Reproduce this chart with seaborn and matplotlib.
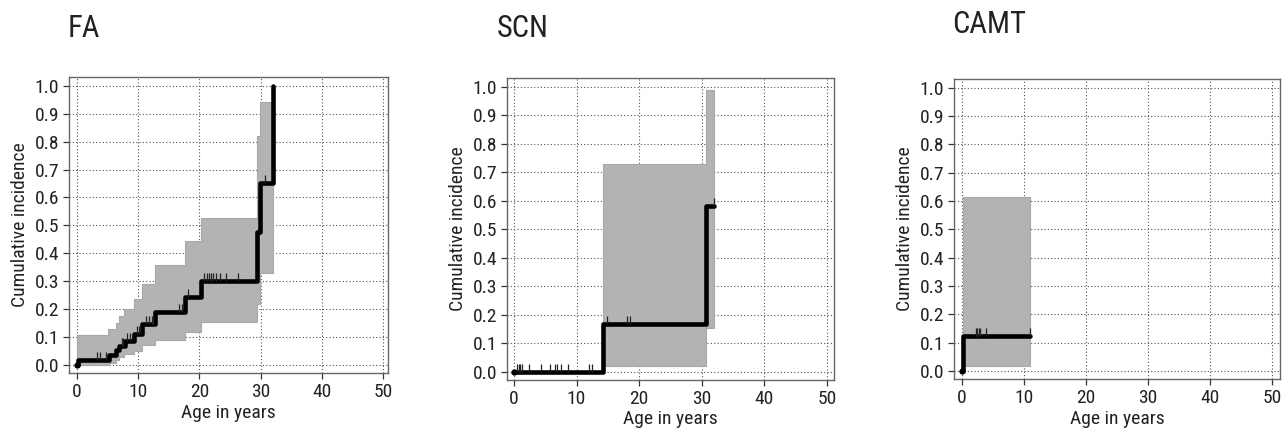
import numpy as np
import pandas as pd
import matplotlib
matplotlib.use("Agg")
import matplotlib.pyplot as plt
import seaborn as sns
from matplotlib import font_manager

# ---------------- data ----------------
panel_titles = ["FA", "SCN", "CAMT"]

# FA
fa_time = [0, 0.1, 5.2, 6.4, 6.9, 7.8, 9.3, 10.7, 12.8, 17.7, 20.3, 29.4, 29.9, 32.0]
fa_cif = [0, 0.017, 0.035, 0.053, 0.07, 0.088, 0.113, 0.147, 0.19, 0.243, 0.30, 0.475, 0.65, 1.0]
fa_ci_time = [0, 5.0, 5.2, 6.4, 6.85, 7.7, 9.3, 10.7, 12.8, 17.6, 20.2, 29.4, 29.9, 32.0]
fa_ci_upper = [0.107, 0.128, 0.128, 0.15, 0.175, 0.2, 0.235, 0.29, 0.36, 0.445, 0.525, 0.82, 0.94, 0.94]
fa_ci_lower = [0.0, 0.0, 0.006, 0.018, 0.03, 0.04, 0.052, 0.072, 0.09, 0.12, 0.155, 0.22, 0.33, 0.33]
fa_censor = [3.3, 3.7, 4.8, 7.3, 7.6, 8.1, 8.6, 9.8, 10.2, 11.3, 11.7, 12.2, 12.5,
             16.6, 17.1, 18.1, 20.8, 21.2, 21.6, 21.9, 22.3, 22.7, 23.3, 24.3, 26.3, 30.7]

# SCN
scn_time = [0, 14.2, 30.6, 32.0]
scn_cif = [0, 0.167, 0.583, 0.583]
scn_ci_time = [0, 14.2, 30.6, 32.0]
scn_ci_upper = [0, 0.73, 0.99, 0.99]
scn_ci_lower = [0, 0.022, 0.155, 0.155]
scn_censor = [0.5, 0.8, 1.0, 1.3, 2.4, 4.3, 5.8, 6.6, 6.9, 7.5, 8.7, 12.0, 12.5,
              14.9, 18.0, 18.6, 32.0]

# CAMT
camt_time = [0, 0.15, 11.0]
camt_cif = [0, 0.125, 0.125]
camt_ci_time = [0, 0.15, 11.0]
camt_ci_upper = [0, 0.615, 0.615]
camt_ci_lower = [0, 0.018, 0.018]
camt_censor = [2.2, 2.4, 2.7, 2.9, 3.8, 10.9]

x_ticks = [0, 10, 20, 30, 40, 50]
y_ticks = [0.0, 0.1, 0.2, 0.3, 0.4, 0.5, 0.6, 0.7, 0.8, 0.9, 1.0]
x_label = "Age in years"
y_label = "Cumulative incidence"

panels = [
    (fa_time, fa_cif, fa_ci_time, fa_ci_upper, fa_ci_lower, fa_censor),
    (scn_time, scn_cif, scn_ci_time, scn_ci_upper, scn_ci_lower, scn_censor),
    (camt_time, camt_cif, camt_ci_time, camt_ci_upper, camt_ci_lower, camt_censor),
]

# ---------------- style ----------------
sns.set_theme(style="white")
names = {f.name for f in font_manager.fontManager.ttflist}
fam = None
for cand in ["Liberation Sans Narrow", "Roboto Condensed", "Open Sans Condensed"]:
    if cand in names:
        fam = cand
        break
if fam is None:
    fam = "Liberation Sans"
plt.rcParams["font.family"] = [fam, "DejaVu Sans"]

fig = plt.figure(figsize=(12.83, 4.28), dpi=100)

W, H = 1283.0, 428.0
axes_px = [(69, 77, 388, 373), (507, 78, 834, 380), (954, 79, 1280, 379)]
xlims = [(-1.3, 50.8), (-1.1, 51.1), (-1.3, 51.3)]
title_px = [(68, 37), (497, 37), (952, 33)]

grid_color = "#555555"
fill_color = "#b3b3b3"

for i, (t, c, ct, cu, cl, cens) in enumerate(panels):
    l, tp, r, b = axes_px[i]
    ax = fig.add_axes([l / W, 1 - b / H, (r - l) / W, (b - tp) / H])
    ax.set_axisbelow(True)
    ax.grid(True, linestyle=(0, (1, 2)), color=grid_color, linewidth=0.8)

    ax.fill_between(ct, cl, cu, step="post", color=fill_color,
                    edgecolor="#a8a8a8", linewidth=0.8, zorder=2)

    df = pd.DataFrame({"time": t, "cif": c})
    sns.lineplot(data=df, x="time", y="cif", drawstyle="steps-post",
                 estimator=None, sort=False, color="black", linewidth=3.3,
                 ax=ax, zorder=3)

    # censor marks (value of step function at each censor time)
    idx = np.searchsorted(np.asarray(t), np.asarray(cens), side="right") - 1
    cens_y = np.asarray(c)[idx]
    ax.plot(cens, cens_y, linestyle="none", marker=2, markersize=5.5,
            markeredgewidth=0.9, color="#222222", zorder=4)

    # start point
    ax.plot([t[0]], [c[0]], marker="o", markersize=3.5, color="black", zorder=5)

    ax.set_xlim(*xlims[i])
    ax.set_ylim(-0.028, 1.031)
    ax.set_xticks(x_ticks)
    ax.set_yticks(y_ticks)
    ax.set_yticklabels([f"{v:.1f}" for v in y_ticks])
    ax.tick_params(axis="both", direction="out", length=4, width=0.9,
                   color="#333333", labelsize=14, labelcolor="#222222", pad=3,
                   bottom=True, left=True)
    for s in ax.spines.values():
        s.set_color("#666666")
        s.set_linewidth(1.0)
    ax.set_xlabel(x_label, fontsize=14, color="#222222", labelpad=2)
    ax.set_ylabel(y_label, fontsize=14, color="#222222", labelpad=4)

    tx, ty = title_px[i]
    fig.text(tx / W, 1 - ty / H, panel_titles[i], fontsize=22,
             ha="left", va="baseline", color="#222222")

fig.savefig("out.png", dpi=100)
